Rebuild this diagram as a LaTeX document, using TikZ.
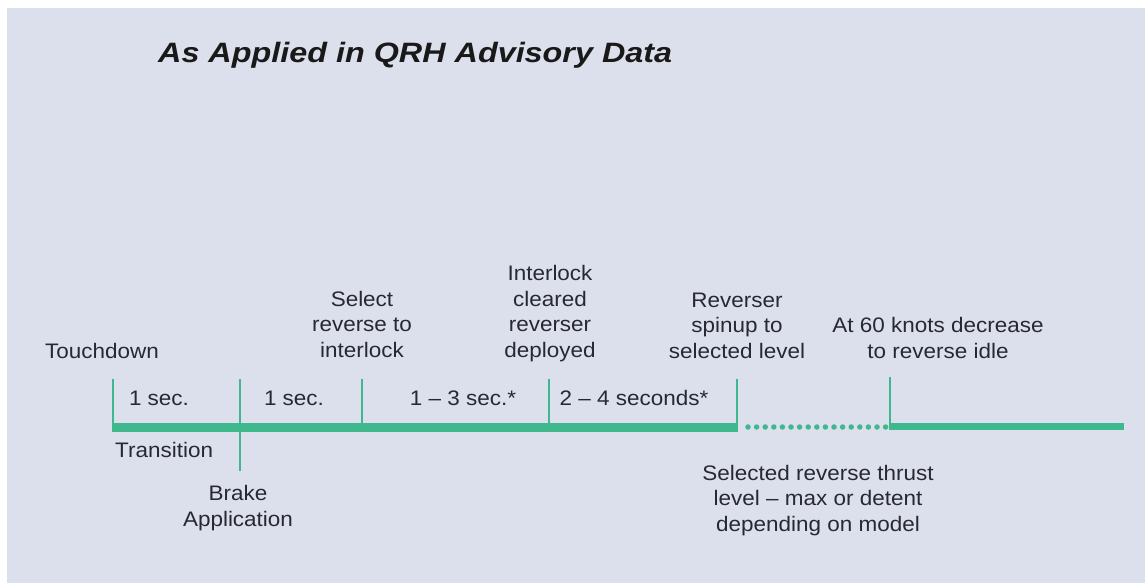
\documentclass[tikz,border=0pt]{standalone}
\usepackage{fontspec}
\setmainfont{Liberation Sans}[FakeStretch=1.07]
\newfontfamily\titlefont{Liberation Sans}[FakeStretch=1.155]
\definecolor{bgc}{RGB}{220,224,236}
\definecolor{grn}{RGB}{62,184,140}
\definecolor{txt}{RGB}{40,40,50}
\begin{document}
\begin{tikzpicture}[x=1pt,y=-1pt,
  lbl/.style={font=\fontsize{21}{25.5}\selectfont, text=txt, inner sep=0pt, anchor=base, align=center},
  tick/.style={draw=grn, line width=2pt},
  mainline/.style={draw=grn, line width=9pt},
  thinline/.style={draw=grn, line width=7pt},
  dotline/.style={draw=grn, line width=5.5pt, line cap=round, dash pattern=on 0pt off 8.6pt}]
\useasboundingbox (0,0) rectangle (1145,583);
\fill[white] (0,0) rectangle (1145,583);
\fill[bgc] (7,8) rectangle (1145,583);
% title
\node[font=\titlefont\fontsize{28}{32}\selectfont\bfseries\itshape, text=black!90, inner sep=0pt, anchor=base west] (title) at (158,63) {As Applied in QRH Advisory Data};
% coordinates
\coordinate (t1) at (113,427); \coordinate (t1u) at (113,379);
\coordinate (t2) at (240,471); \coordinate (t2u) at (240,379);
\coordinate (t3) at (362,427); \coordinate (t3u) at (362,379);
\coordinate (t4) at (549,427); \coordinate (t4u) at (549,379);
\coordinate (t5) at (737,427); \coordinate (t5u) at (737,379);
\coordinate (t6) at (890,426); \coordinate (t6u) at (890,377);
\coordinate (d1) at (748,427); \coordinate (d2) at (888,427);
\coordinate (e6) at (1124,426);
% lines
\draw[mainline] ([xshift=-1pt]t1) -- ([xshift=1pt]t5);
\draw[dotline] (d1) -- (d2);
\draw[thinline] ([xshift=-1pt]t6) -- (e6);
\draw[tick] (t1) -- (t1u);
\draw[tick] (t2) -- (t2u);
\draw[tick] (t3) -- (t3u);
\draw[tick] (t4) -- (t4u);
\draw[tick] (t5) -- (t5u);
\draw[tick] (t6) -- (t6u);
% labels (multi-line nodes: base = last line's baseline)
\node[lbl, anchor=base west] (touch) at (45,358) {Touchdown};
\node[lbl] (s1) at (159,405) {1 sec.};
\node[lbl] (s2) at (294,405) {1 sec.};
\node[lbl] (s3) at (463,405) {1 -- 3 sec.*};
\node[lbl] (s4) at (634,405) {2 -- 4 seconds*};
\node[lbl] (sel) at (362,357) {Select\\reverse to\\interlock};
\node[lbl] (intl) at (550,357) {Interlock\\cleared\\reverser\\deployed};
\node[lbl] (rev) at (737,358) {Reverser\\spinup to\\selected level};
\node[lbl] (at60) at (938,358) {At 60 knots decrease\\to reverse idle};
\node[lbl, anchor=base west] (trans) at (115,457) {Transition};
\node[lbl] (brake) at (238,526) {Brake\\Application};
\node[lbl] (selrev) at (818,531) {Selected reverse thrust\\level -- max or detent\\depending on model};
\end{tikzpicture}
\end{document}
